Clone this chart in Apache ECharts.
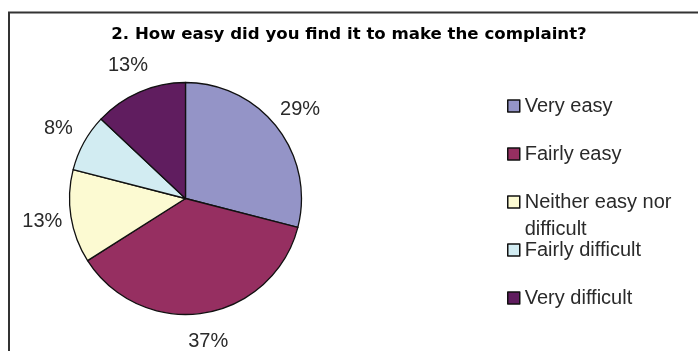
<!DOCTYPE html>
<html>
<head>
<meta charset="utf-8">
<script src="https://cdn.jsdelivr.net/npm/echarts@6/dist/echarts.min.js"></script>
<style>
  html, body { margin: 0; padding: 0; background: #fff; }
  #chart { width: 698px; height: 351px; }
</style>
</head>
<body>
<div id="chart"></div>
<script>
// Survey answers, in percent
const categories = ['Very easy', 'Fairly easy', 'Neither easy nor difficult', 'Fairly difficult', 'Very difficult'];
const shares = [29, 37, 13, 8, 13];
const colors = ['#9494C7', '#962F61', '#FCFAD2', '#D2ECF2', '#601D5F'];
// wrapped entry gets a leading blank line so its swatch sits beside the first visible line
const legendText = ['Very easy', 'Fairly easy', '\nNeither easy nor\ndifficult', 'Fairly difficult', 'Very difficult'];

const CX = 185.5, CY = 198.5, R = 116, LABEL_DIST = 145;
const total = shares.reduce((a, b) => a + b, 0);
const cumulative = shares.map((v, i) => shares.slice(0, i).reduce((a, b) => a + b, 0));

const font = '"Liberation Sans", Arial, sans-serif';
const textColor = '#2a2a2a';

// one legend block per entry, stacked at a fixed pitch
const legendPitch = 48, firstIconCenter = 106, lineH = 27;
const legends = categories.map((name, i) => {
  const c = firstIconCenter + legendPitch * i;
  const lines = legendText[i].split('\n').length;
  return {
    data: [name],
    orient: 'vertical',
    left: 507,
    top: c - lines * lineH / 2,
    padding: 0,
    itemWidth: 12,
    itemHeight: 12,
    icon: 'rect',
    selectedMode: false,
    itemStyle: { borderColor: '#111', borderWidth: 1.5 },
    formatter: () => legendText[i],
    textStyle: { fontFamily: font, fontSize: 20, color: textColor, lineHeight: lineH }
  };
});

const chart = echarts.init(document.getElementById('chart'), null, { renderer: 'canvas' });
chart.setOption({
  animation: false,
  backgroundColor: '#fff',
  title: {
    text: '2. How easy did you find it to make the complaint?',
    left: 'center',
    top: 26,
    padding: 0,
    textStyle: { fontFamily: '"DejaVu Sans", Verdana, sans-serif', fontWeight: 'bold', fontSize: 16.6, color: '#000' }
  },
  legend: legends,
  graphic: [{
    type: 'rect',
    silent: true,
    shape: { x: 9, y: 12.5, width: 1000, height: 1000 },
    style: { fill: 'none', stroke: '#333', lineWidth: 2 }
  }],
  series: [{
    type: 'pie',
    center: [CX, CY],
    radius: R,
    startAngle: 90,
    clockwise: true,
    avoidLabelOverlap: false,
    data: categories.map((name, i) => ({ name, value: shares[i], itemStyle: { color: colors[i] } })),
    itemStyle: { borderColor: '#111', borderWidth: 1.3 },
    emphasis: { disabled: true },
    label: {
      show: true,
      position: 'outside',
      formatter: '{c}%',
      fontFamily: font,
      fontSize: 20,
      color: textColor
    },
    labelLine: { show: false },
    labelLayout: function (p) {
      const i = p.dataIndex;
      const mid = (cumulative[i] + shares[i] / 2) / total * Math.PI * 2;
      return {
        x: CX + LABEL_DIST * Math.sin(mid),
        y: CY - LABEL_DIST * Math.cos(mid),
        align: 'center',
        verticalAlign: 'middle'
      };
    }
  }]
});
</script>
</body>
</html>
